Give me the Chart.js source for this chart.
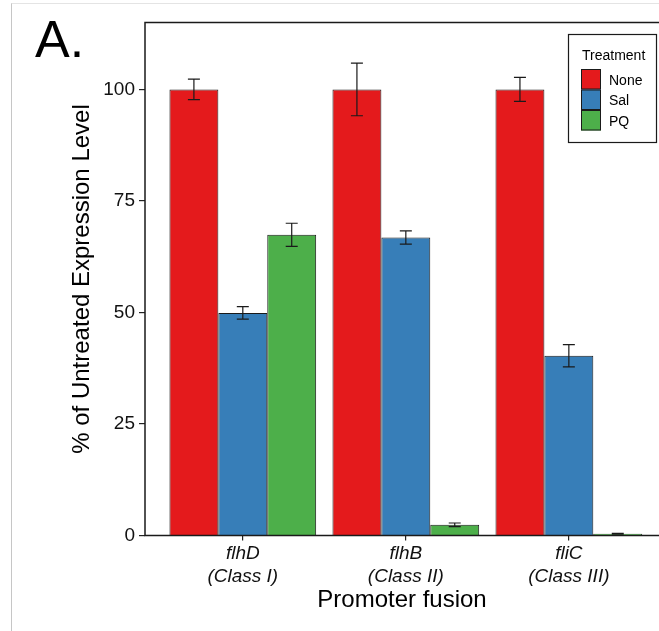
<!DOCTYPE html>
<html><head><meta charset="utf-8">
<script src="https://cdn.jsdelivr.net/npm/chart.js@4.4.1/dist/chart.umd.min.js"></script>
<style>
html,body{margin:0;padding:0;background:#fff;overflow:hidden;}
#wrap{position:relative;width:659px;height:631px;overflow:hidden;}
#frame{position:absolute;left:11px;top:3px;width:700px;height:700px;border-left:1px solid #c6c6c6;border-top:1px solid #e4e4e4;}
#panel{position:absolute;left:35px;top:13px;font:52px/52px "Liberation Sans",Arial,sans-serif;color:#000;}
canvas{position:absolute;left:0;top:0;}
</style></head><body>
<div id="wrap"><div id="frame"></div><canvas id="c" width="659" height="631"></canvas><div id="panel">A.</div></div>
<script>
const categories = ['flhD', 'flhB', 'fliC'];
const classLabels = ['(Class I)', '(Class II)', '(Class III)'];
const seriesNames = ['None', 'Sal', 'PQ'];
const noneValues = [100, 100, 100];
const noneErrors = [2.3, 5.9, 2.7];
const salValues = [49.9, 66.8, 40.3];
const salErrors = [1.4, 1.5, 2.5];
const pqValues = [67.4, 2.4, 0.4];
const pqErrors = [2.6, 0.4, 0.1];
const yTickValues = [0, 25, 50, 75, 100];
const seriesColors = ['#E41A1C', '#377EB8', '#4DAF4A'];

const FAMILY = '"Liberation Sans", Arial, sans-serif';
const toPoints = (vals) => vals.map((v, i) => ({x: i + 1, y: v}));
const valueSets = [noneValues, salValues, pqValues];
const errorSets = [noneErrors, salErrors, pqErrors];

const datasets = seriesNames.map((name, k) => ({
  label: name,
  data: toPoints(valueSets[k]),
  errors: errorSets[k],
  backgroundColor: seriesColors[k],
  borderColor: '#1a1a1a',
  borderWidth: 1,
  categoryPercentage: 0.9,
  barPercentage: 1.0
}));

const errorBarPlugin = {
  id: 'errorBars',
  afterDatasetsDraw(chart) {
    const ctx = chart.ctx;
    const ys = chart.scales.y;
    ctx.save();
    ctx.strokeStyle = '#1a1a1a';
    ctx.lineWidth = 1.2;
    chart.data.datasets.forEach((ds, di) => {
      const meta = chart.getDatasetMeta(di);
      meta.data.forEach((bar, i) => {
        const v = ds.data[i].y, e = ds.errors[i];
        const yt = ys.getPixelForValue(v + e);
        const yb = ys.getPixelForValue(Math.max(0, v - e));
        const x = bar.x, hw = 6;
        ctx.beginPath();
        ctx.moveTo(x, yt); ctx.lineTo(x, yb);
        ctx.moveTo(x - hw, yt); ctx.lineTo(x + hw, yt);
        ctx.moveTo(x - hw, yb); ctx.lineTo(x + hw, yb);
        ctx.stroke();
      });
    });
    // panel border (left, top, bottom)
    const a = chart.chartArea;
    ctx.strokeStyle = '#1a1a1a';
    ctx.lineWidth = 1.5;
    ctx.beginPath();
    ctx.moveTo(a.right + 2, a.top); ctx.lineTo(a.left, a.top);
    ctx.lineTo(a.left, a.bottom); ctx.lineTo(a.right + 2, a.bottom);
    ctx.stroke();
    ctx.restore();
  }
};

const legendPlugin = {
  id: 'boxLegend',
  afterDraw(chart) {
    const ctx = chart.ctx;
    ctx.save();
    ctx.strokeStyle = '#1a1a1a';
    ctx.lineWidth = 1.2;
    ctx.strokeRect(568.5, 34.5, 88, 108);
    ctx.fillStyle = '#000';
    ctx.font = '14px ' + FAMILY;
    ctx.textBaseline = 'alphabetic';
    ctx.textAlign = 'left';
    ctx.fillText('Treatment', 582, 59.5);
    chart.data.datasets.forEach((ds, i) => {
      const ky = 69 + i * 20.5;
      ctx.fillStyle = ds.backgroundColor;
      ctx.fillRect(581, ky, 20, 20.5);
      ctx.lineWidth = 1;
      ctx.strokeRect(581.5, ky + 0.5, 19, 19.5);
      ctx.fillStyle = '#000';
      ctx.fillText(ds.label, 609, ky + 15.5);
    });
    ctx.restore();
  }
};

new Chart(document.getElementById('c'), {
  type: 'bar',
  data: {datasets},
  options: {
    responsive: false,
    animation: false,
    devicePixelRatio: 1,
    layout: {padding: {top: 22.5, left: 0, right: 0, bottom: 0}},
    plugins: {legend: {display: false}, tooltip: {enabled: false}},
    scales: {
      x: {
        type: 'linear',
        min: 0.4,
        max: 3.553,
        offset: false,
        afterBuildTicks(axis) { axis.ticks = categories.map((c, i) => ({value: i + 1})); },
        ticks: {
          callback: (v) => { const i = Math.round(v) - 1; return [categories[i], classLabels[i]]; },
          font: {family: FAMILY, size: 19, style: 'italic', lineHeight: 1.25},
          color: '#111',
          padding: 1,
          maxRotation: 0,
          autoSkip: false
        },
        grid: {display: true, drawOnChartArea: false, drawTicks: true, tickLength: 5, color: '#222', lineWidth: 1.2, offset: false},
        border: {display: false},
        title: {display: true, text: 'Promoter fusion', font: {family: FAMILY, size: 24}, color: '#000', padding: {top: 0, bottom: 16}},
        afterFit(axis) { axis.height = 95.5; }
      },
      y: {
        min: 0,
        max: 115,
        afterBuildTicks(axis) { axis.ticks = yTickValues.map(v => ({value: v})); },
        ticks: {font: {family: FAMILY, size: 19}, color: '#111', padding: 4},
        grid: {drawOnChartArea: false, drawTicks: true, tickLength: 6, color: '#222', lineWidth: 1.2},
        border: {display: false},
        title: {display: true, text: '% of Untreated Expression Level', font: {family: FAMILY, size: 24}, color: '#000', padding: {top: 67.6, bottom: 0}},
        afterFit(axis) { axis.width = 145; }
      }
    }
  },
  plugins: [errorBarPlugin, legendPlugin]
});
</script>
</body></html>
